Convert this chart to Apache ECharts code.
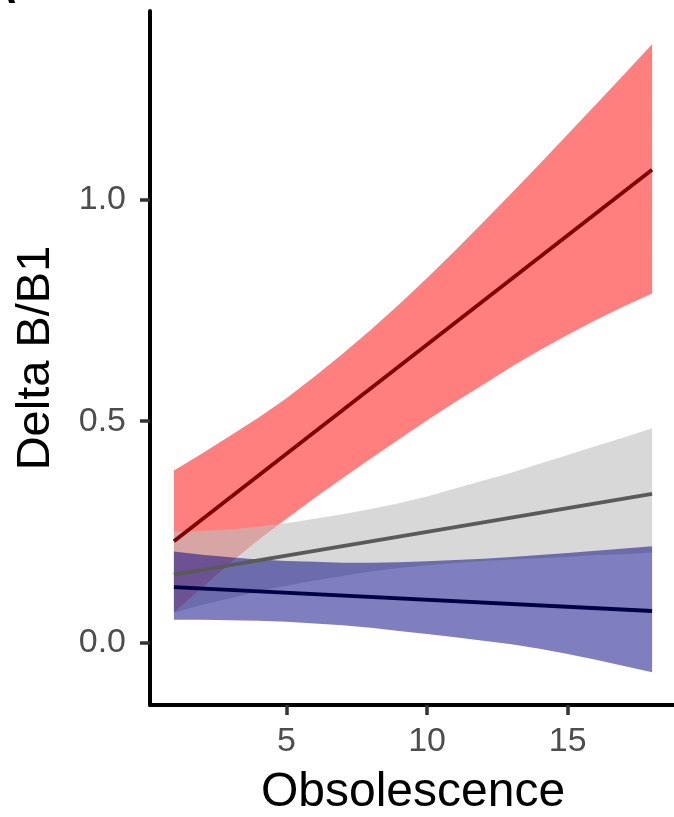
<!DOCTYPE html>
<html>
<head>
<meta charset="utf-8">
<style>
  html, body { margin: 0; padding: 0; background: #ffffff; }
  #chart { width: 674px; height: 817px; }
</style>
<script src="https://cdn.jsdelivr.net/npm/echarts@6/dist/echarts.min.js"></script>
</head>
<body>
<div id="chart"></div>
<script>
// Ribbon x positions (Obsolescence) and band edges per group
const ribbonX = [1, 2, 3, 4, 5, 6, 7, 8, 9, 10, 11, 12, 13, 14, 15, 16, 17, 18];

const redLower  = [0.069, 0.125, 0.180, 0.232, 0.280, 0.327, 0.372, 0.416, 0.459,
                   0.502, 0.543, 0.583, 0.623, 0.660, 0.695, 0.728, 0.759, 0.788];
const redUpper  = [0.389, 0.427, 0.467, 0.508, 0.552, 0.601, 0.652, 0.706, 0.763,
                   0.823, 0.885, 0.949, 1.014, 1.080, 1.147, 1.214, 1.282, 1.350];

const grayLower = [0.068, 0.086, 0.101, 0.116, 0.129, 0.141, 0.151, 0.161, 0.169,
                   0.175, 0.180, 0.185, 0.188, 0.191, 0.194, 0.198, 0.200, 0.204];
const grayUpper = [0.251, 0.253, 0.256, 0.262, 0.270, 0.280, 0.290, 0.302, 0.315,
                   0.330, 0.348, 0.366, 0.384, 0.404, 0.424, 0.444, 0.463, 0.484];

const blueLower = [0.052, 0.052, 0.051, 0.050, 0.048, 0.044, 0.040, 0.034, 0.027,
                   0.020, 0.013, 0.005, -0.003, -0.013, -0.025, -0.038, -0.052, -0.066];
const blueUpper = [0.206, 0.199, 0.193, 0.188, 0.185, 0.183, 0.181, 0.181, 0.182,
                   0.184, 0.187, 0.190, 0.194, 0.198, 0.203, 0.208, 0.213, 0.218];

// Fitted lines (straight, so the two ends are enough)
const lineX    = [1, 18];
const redLine  = [0.229, 1.067];
const grayLine = [0.154, 0.336];
const blueLine = [0.126, 0.072];

// Axis ticks
const xTicks = [5, 10, 15];
const yTicks = [0, 0.5, 1.0];

const FONT = '"Liberation Sans", Arial, Helvetica, sans-serif';

function ribbonSeries(lower, upper, fill) {
  return {
    type: 'custom',
    coordinateSystem: 'cartesian2d',
    data: [[ribbonX[0], lower[0]]],
    silent: true,
    renderItem: function (params, api) {
      const pts = [];
      for (let i = 0; i < ribbonX.length; i++) pts.push(api.coord([ribbonX[i], upper[i]]));
      for (let i = ribbonX.length - 1; i >= 0; i--) pts.push(api.coord([ribbonX[i], lower[i]]));
      return {
        type: 'polygon',
        shape: { points: pts },
        style: { fill: fill, stroke: null }
      };
    }
  };
}

function lineSeries(values, color) {
  return {
    type: 'line',
    data: lineX.map((x, i) => [x, values[i]]),
    showSymbol: false,
    silent: true,
    lineStyle: { color: color, width: 3.8 }
  };
}

const chart = echarts.init(document.getElementById('chart'), null, { renderer: 'canvas' });

chart.setOption({
  animation: false,
  backgroundColor: '#ffffff',
  grid: {
    left: 150, top: 11, width: 526, height: 694,
    containLabel: false,
    outerBoundsMode: 'none'
  },
  xAxis: {
    type: 'value',
    min: 0.15,
    max: 18.85,
    name: 'Obsolescence',
    nameLocation: 'middle',
    nameGap: 64,
    nameTextStyle: { fontSize: 48, color: '#000000', fontFamily: FONT },
    axisLine: { show: true, onZero: false, lineStyle: { color: '#000000', width: 4 } },
    axisTick: { show: true, length: 10, customValues: xTicks, lineStyle: { color: '#333333', width: 3.5 } },
    axisLabel: { show: true, customValues: xTicks, margin: 20, fontSize: 34, color: '#4d4d4d', fontFamily: FONT },
    splitLine: { show: false }
  },
  yAxis: {
    type: 'value',
    min: -0.14,
    max: 1.425,
    name: 'Delta B/B1',
    nameLocation: 'middle',
    nameGap: 90,
    nameRotate: 90,
    nameTextStyle: { fontSize: 47, color: '#000000', fontFamily: FONT },
    axisLine: { show: true, onZero: false, lineStyle: { color: '#000000', width: 4 } },
    axisTick: { show: true, length: 10, customValues: yTicks, lineStyle: { color: '#333333', width: 3.5 } },
    axisLabel: {
      show: true, customValues: yTicks, margin: 24, fontSize: 34, color: '#4d4d4d', fontFamily: FONT,
      formatter: v => v.toFixed(1)
    },
    splitLine: { show: false }
  },
  graphic: [{
    type: 'text',
    left: -14,
    top: -30,
    style: { text: 'A', fontSize: 42, fontWeight: 'bold', fill: '#000000', fontFamily: FONT }
  }],
  series: [
    ribbonSeries(redLower, redUpper, 'rgba(255,0,0,0.5)'),
    lineSeries(redLine, '#7f0000'),
    ribbonSeries(grayLower, grayUpper, 'rgba(190,190,190,0.6)'),
    lineSeries(grayLine, '#5a5a5a'),
    ribbonSeries(blueLower, blueUpper, 'rgba(0,0,128,0.5)'),
    lineSeries(blueLine, '#000046')
  ]
});
</script>
</body>
</html>
